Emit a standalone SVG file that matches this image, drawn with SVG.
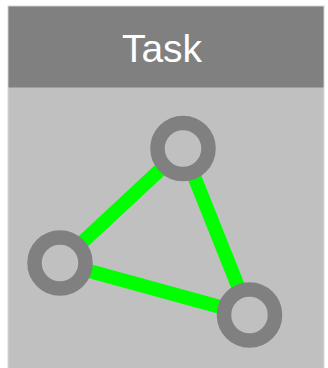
<svg xmlns="http://www.w3.org/2000/svg" width="328" height="368" viewBox="0 0 328 368">
  <style>
    .node { fill: #C0C0C0; stroke: #808080; stroke-width: 14.5; }
    .edge { stroke: #00FF00; stroke-width: 14; stroke-linecap: butt; fill: none; }
    .title { font-family: "Liberation Sans", Arial, sans-serif; font-size: 39px; fill: #FFFFFF; text-anchor: middle; }
  </style>
  <rect width="328" height="368" fill="#FFFFFF"/>
  <g id="panel">
    <rect x="8" y="6" width="316" height="370" fill="#C0C0C0" stroke="#D8D8D8" stroke-width="1"/>
    <rect x="8.5" y="6.5" width="315" height="81" fill="#808080"/>
    <text class="title" x="162" y="62">Task</text>
  </g>
  <g id="connectors">
    <line class="edge" x1="183" y1="148.5" x2="60" y2="263"/>
    <line class="edge" x1="183" y1="148.5" x2="249.5" y2="315"/>
    <line class="edge" x1="60" y1="263" x2="249.5" y2="315"/>
  </g>
  <g id="node-top">
    <circle class="node" cx="183" cy="148.5" r="25.5"/>
  </g>
  <g id="node-left">
    <circle class="node" cx="60" cy="263" r="25.5"/>
  </g>
  <g id="node-right">
    <circle class="node" cx="249.5" cy="315" r="25.5"/>
  </g>
</svg>
